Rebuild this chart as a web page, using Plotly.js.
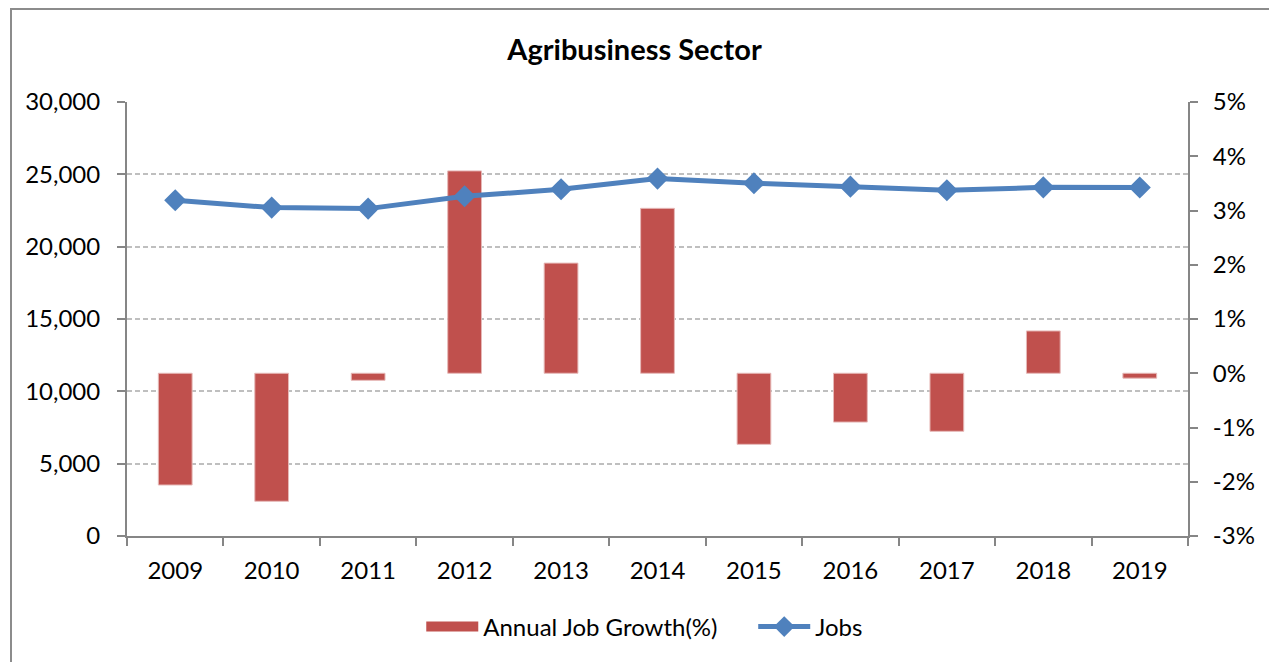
<!DOCTYPE html>
<html>
<head>
<meta charset="utf-8">
<script src="https://cdn.plot.ly/plotly-3.0.1.min.js"></script>
<style>
  html, body { margin: 0; padding: 0; background: #fff; }
  #wrap { position: relative; width: 1269px; height: 662px; overflow: hidden; }
  #chart { width: 1269px; height: 662px; }
  #frame { position: absolute; left: 10px; top: 8px; width: 1320px; height: 720px;
           border: 2px solid #8c8c8c; pointer-events: none; box-sizing: border-box; }
</style>
</head>
<body>
<div id="wrap">
  <div id="chart"></div>
  <div id="frame"></div>
</div>
<script>
const years = ['2009','2010','2011','2012','2013','2014','2015','2016','2017','2018','2019'];
const growthPct = [-2.06, -2.36, -0.13, 3.73, 2.03, 3.04, -1.31, -0.90, -1.07, 0.78, -0.09];
const jobs = [23205, 22700, 22630, 23480, 23965, 24705, 24380, 24150, 23895, 24100, 24085];
const pctTickVals = [-3, -2, -1, 0, 1, 2, 3, 4, 5];
const pctTickText = ['-3%', '-2%', '-1%', '0%', '1%', '2%', '3%', '4%', '5%'];

const FONT = 'Lato, "Open Sans", sans-serif';
const FS = 24;
const NB = '\u00a0\u00a0\u00a0\u00a0\u00a0';

const traces = [
  {
    type: 'bar',
    name: 'Annual Job Growth(%)',
    x: years,
    y: growthPct,
    yaxis: 'y',
    width: 0.35,
    showlegend: false,
    marker: { color: '#C0504D', line: { color: '#E6B9B8', width: 1 } }
  },
  {
    type: 'scatter',
    mode: 'lines',
    name: 'Annual Job Growth(%)' + NB,
    x: [null],
    y: [null],
    yaxis: 'y',
    showlegend: true,
    line: { color: '#C0504D', width: 13 }
  },
  {
    type: 'scatter',
    mode: 'lines+markers',
    name: 'Jobs',
    x: years,
    y: jobs,
    yaxis: 'y2',
    line: { color: '#4F81BD', width: 5 },
    marker: { symbol: 'diamond', size: 17, color: '#4F81BD' }
  }
];

const layout = {
  width: 1269,
  height: 662,
  margin: { l: 127, r: 81, t: 102, b: 126 },
  paper_bgcolor: '#ffffff',
  plot_bgcolor: 'rgba(0,0,0,0)',
  font: { family: FONT, color: '#000', size: FS },
  title: {
    text: '<b>Agribusiness Sector</b>',
    font: { family: FONT, size: 29, color: '#000' },
    x: 0.5, xanchor: 'center',
    y: 1 - 50 / 662, yanchor: 'middle'
  },
  showlegend: true,
  legend: {
    orientation: 'h',
    x: 0.488, xanchor: 'center',
    y: -(627 - 536) / 434, yanchor: 'middle',
    font: { family: FONT, size: FS, color: '#000' },
    itemwidth: 52,
    traceorder: 'normal',
    bgcolor: 'rgba(0,0,0,0)'
  },
  xaxis: {
    type: 'category',
    range: [-0.5, 10.5],
    showline: true, linecolor: '#868686', linewidth: 2,
    ticks: 'outside', ticklen: 8, tickcolor: '#868686', tickwidth: 2,
    tickson: 'boundaries',
    ticklabelstandoff: 12,
    showgrid: false,
    tickfont: { family: FONT, size: FS, color: '#000' },
    fixedrange: true
  },
  yaxis: {
    side: 'right',
    range: [-3, 5],
    tickvals: pctTickVals,
    ticktext: pctTickText,
    showline: true, linecolor: '#868686', linewidth: 2,
    ticks: 'outside', ticklen: 8, tickcolor: '#868686', tickwidth: 2,
    ticklabelstandoff: 10,
    showgrid: false,
    zeroline: false,
    tickfont: { family: FONT, size: FS, color: '#000' },
    fixedrange: true
  },
  yaxis2: {
    side: 'left',
    overlaying: 'y',
    range: [0, 30000],
    dtick: 5000,
    tickformat: ',d',
    showline: true, linecolor: '#868686', linewidth: 2,
    ticks: 'outside', ticklen: 8, tickcolor: '#868686', tickwidth: 2,
    ticklabelstandoff: 12,
    showgrid: true, gridcolor: '#BFBFBF', gridwidth: 2, griddash: '5px,3px',
    zeroline: false,
    tickfont: { family: FONT, size: FS, color: '#000' },
    fixedrange: true
  }
};

Plotly.newPlot('chart', traces, layout, { displayModeBar: false, staticPlot: true });
</script>
</body>
</html>
